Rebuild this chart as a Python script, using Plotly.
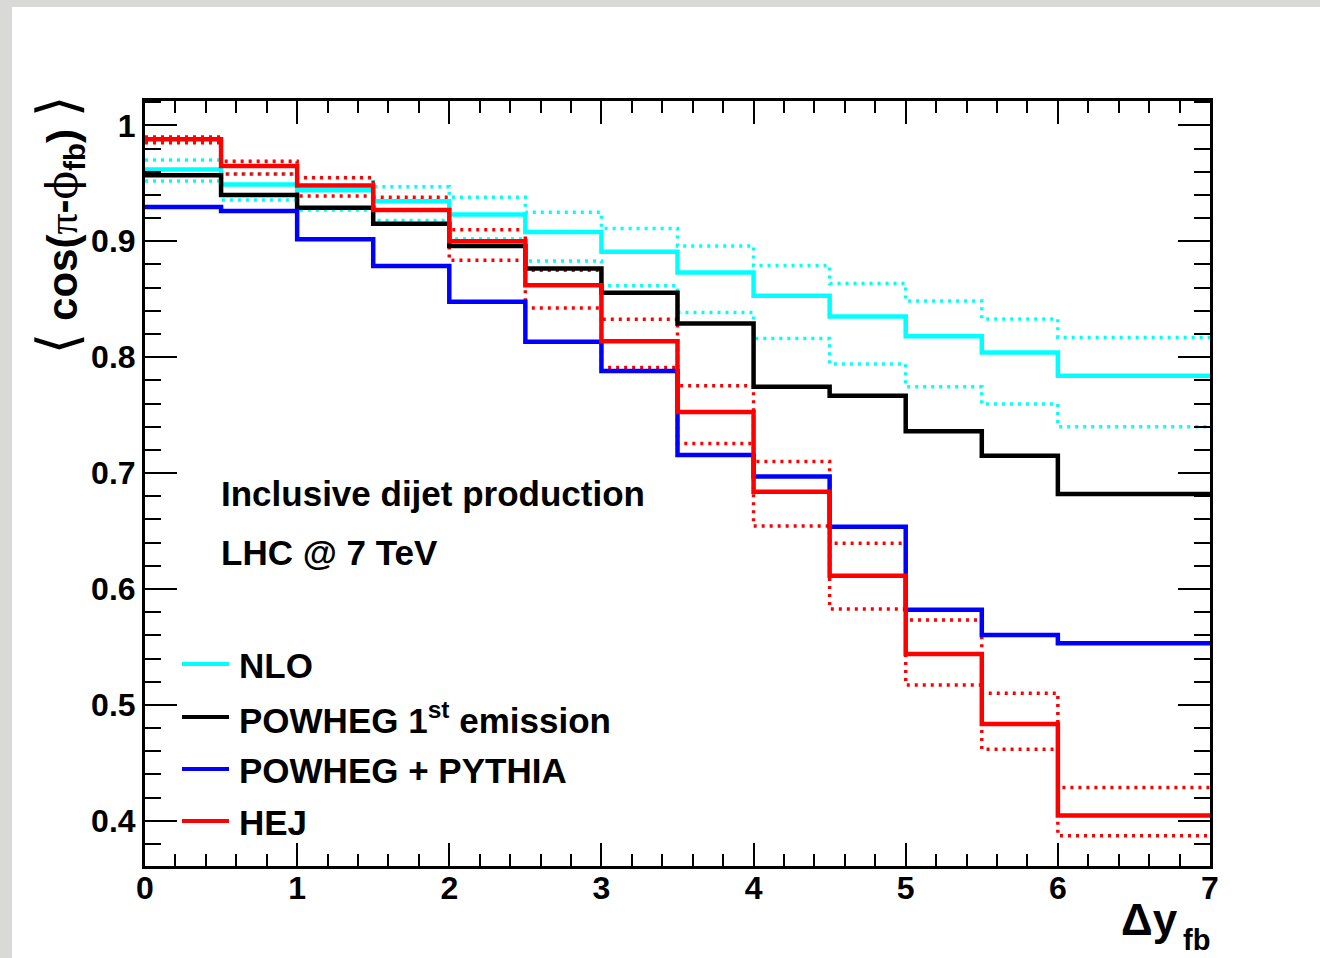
import plotly.graph_objects as go

# ---------------- data ----------------
edges = [0, 0.5, 1, 1.5, 2, 2.5, 3, 3.5, 4, 4.5, 5, 5.5, 6, 7]
nlo = [0.962, 0.949, 0.944, 0.9345, 0.923, 0.908, 0.891, 0.873, 0.853, 0.835, 0.818, 0.804, 0.784]
nlo_up = [0.970, 0.958, 0.955, 0.947, 0.938, 0.925, 0.911, 0.896, 0.879, 0.8635, 0.8485, 0.833, 0.817]
nlo_dn = [0.952, 0.9355, 0.927, 0.918, 0.902, 0.883, 0.8615, 0.8385, 0.816, 0.794, 0.7745, 0.7595, 0.740]
powheg1 = [0.957, 0.940, 0.929, 0.915, 0.896, 0.8765, 0.8555, 0.829, 0.7745, 0.7667, 0.736, 0.715, 0.682]
powheg_py = [0.9296, 0.926, 0.9017, 0.8787, 0.8477, 0.8132, 0.788, 0.7155, 0.697, 0.6537, 0.582, 0.5603, 0.5532]
hej = [0.988, 0.965, 0.948, 0.927, 0.900, 0.862, 0.8138, 0.7526, 0.6839, 0.6115, 0.544, 0.4836, 0.4046]
hej_up = [0.990, 0.969, 0.9547, 0.938, 0.910, 0.875, 0.8328, 0.7753, 0.710, 0.6394, 0.5733, 0.5101, 0.4287]
hej_dn = [0.985, 0.958, 0.939, 0.915, 0.8836, 0.8425, 0.791, 0.7256, 0.6543, 0.5828, 0.5172, 0.4618, 0.3871]

x_ticks = [0, 1, 2, 3, 4, 5, 6, 7]
y_ticks = [0.4, 0.5, 0.6, 0.7, 0.8, 0.9, 1.0]
y_ticktext = ["0.4", "0.5", "0.6", "0.7", "0.8", "0.9", "1"]

legend_labels = ["NLO", "POWHEG 1<sup>st</sup> emission", "POWHEG + PYTHIA", "HEJ"]
legend_colors = ["#00ffff", "#000000", "#0000ff", "#ff0000"]

# ---------------- layout constants ----------------
W, H = 1320, 958
L, R, T, B = 145, 110, 101, 92
PW, PH = W - L - R, H - T - B
FONT = "Liberation Sans"


def px2x(px):
    return (px - L) / PW


def py2y(py):
    return (H - B - py) / PH


def step(vals):
    return list(edges), list(vals) + [vals[-1]]


fig = go.Figure()

band_style = dict(width=3.5, dash="3px,5px")
for vals, col in [(nlo_up, "#00ffff"), (nlo_dn, "#00ffff"), (hej_up, "#ff0000"), (hej_dn, "#ff0000")]:
    xs, ys = step(vals)
    fig.add_trace(go.Scatter(x=xs, y=ys, mode="lines", line_shape="hv",
                             line=dict(color=col, **band_style), showlegend=False, hoverinfo="skip"))

for vals, col in [(nlo, "#00ffff"), (powheg1, "#000000"), (powheg_py, "#0000ff"), (hej, "#ff0000")]:
    xs, ys = step(vals)
    fig.add_trace(go.Scatter(x=xs, y=ys, mode="lines", line_shape="hv",
                             line=dict(color=col, width=4.5), showlegend=False, hoverinfo="skip"))

shapes = []
# textured grey border (approximate with flat grey), white canvas
shapes.append(dict(type="rect", xref="paper", yref="paper", layer="below",
                   x0=px2x(0), x1=px2x(W), y0=py2y(H), y1=py2y(0),
                   fillcolor="#d9d9d7", line=dict(width=0)))
shapes.append(dict(type="rect", xref="paper", yref="paper", layer="below",
                   x0=px2x(12), x1=px2x(W), y0=py2y(H), y1=py2y(7),
                   fillcolor="white", line=dict(width=0)))

annotations = []
# manual legend
leg_rows = [664, 717, 769, 821]
for lab, col, yy in zip(legend_labels, legend_colors, leg_rows):
    shapes.append(dict(type="line", xref="paper", yref="paper",
                       x0=px2x(182), x1=px2x(229), y0=py2y(yy), y1=py2y(yy),
                       line=dict(color=col, width=4)))
    annotations.append(dict(xref="paper", yref="paper", x=px2x(237), y=py2y(yy + 1),
                            xanchor="left", yanchor="middle", showarrow=False, text=lab,
                            font=dict(family=FONT, size=35, color="black", weight="bold")))

annotations.append(dict(xref="paper", yref="paper", x=px2x(219), y=py2y(494),
                        xanchor="left", yanchor="middle", showarrow=False,
                        text="Inclusive dijet production",
                        font=dict(family=FONT, size=35, color="black", weight="bold")))
annotations.append(dict(xref="paper", yref="paper", x=px2x(219), y=py2y(552),
                        xanchor="left", yanchor="middle", showarrow=False,
                        text="LHC @ 7 TeV",
                        font=dict(family=FONT, size=35, color="black", weight="bold")))

# x-axis title (main part + subscript placed separately)
annotations.append(dict(xref="paper", yref="paper", x=px2x(1180), y=py2y(919),
                        xanchor="right", yanchor="middle", showarrow=False,
                        text="Δy",
                        font=dict(family=FONT, size=44, color="black", weight="bold")))
annotations.append(dict(xref="paper", yref="paper", x=px2x(1212), y=py2y(940),
                        xanchor="right", yanchor="middle", showarrow=False,
                        text="fb",
                        font=dict(family=FONT, size=29, color="black", weight="bold")))

# y-axis title
ytitle = ("<span style='font-family:DejaVu Sans;font-weight:normal;font-size:56px'>⟨</span> cos("
          "<span style='font-family:Liberation Serif;font-weight:normal'>π</span>-"
          "<span style='font-family:DejaVu Serif;font-weight:normal'>ϕ</span>"
          "<sub>fb</sub>) "
          "<span style='font-family:DejaVu Sans;font-weight:normal;font-size:56px'>⟩</span>")
annotations.append(dict(xref="paper", yref="paper", x=px2x(58), y=py2y(94),
                        xanchor="center", yanchor="top", showarrow=False, textangle=-90,
                        text=ytitle,
                        font=dict(family=FONT, size=42, color="black", weight="bold")))

axis_common = dict(showline=True, linecolor="black", linewidth=3, mirror="allticks",
                   ticks="inside", tickcolor="black", tickwidth=2,
                   showgrid=False, zeroline=False,
                   tickfont=dict(family=FONT, size=32, color="black", weight="bold"))

fig.update_layout(
    width=W, height=H,
    margin=dict(l=L, r=R, t=T, b=B),
    paper_bgcolor="white", plot_bgcolor="white",
    showlegend=False,
    shapes=shapes, annotations=annotations,
    xaxis=dict(range=[0, 7], tickvals=x_ticks, ticklen=23, ticklabelstandoff=-8,
               minor=dict(dtick=0.2, ticklen=12, tickwidth=2, tickcolor="black", ticks="inside"),
               **axis_common),
    yaxis=dict(range=[0.361, 1.021], tickvals=y_ticks, ticktext=y_ticktext, ticklen=32,
               minor=dict(dtick=0.02, tick0=0.4, ticklen=16, tickwidth=2, tickcolor="black", ticks="inside"),
               **axis_common),
)

fig.write_html("out.html")
